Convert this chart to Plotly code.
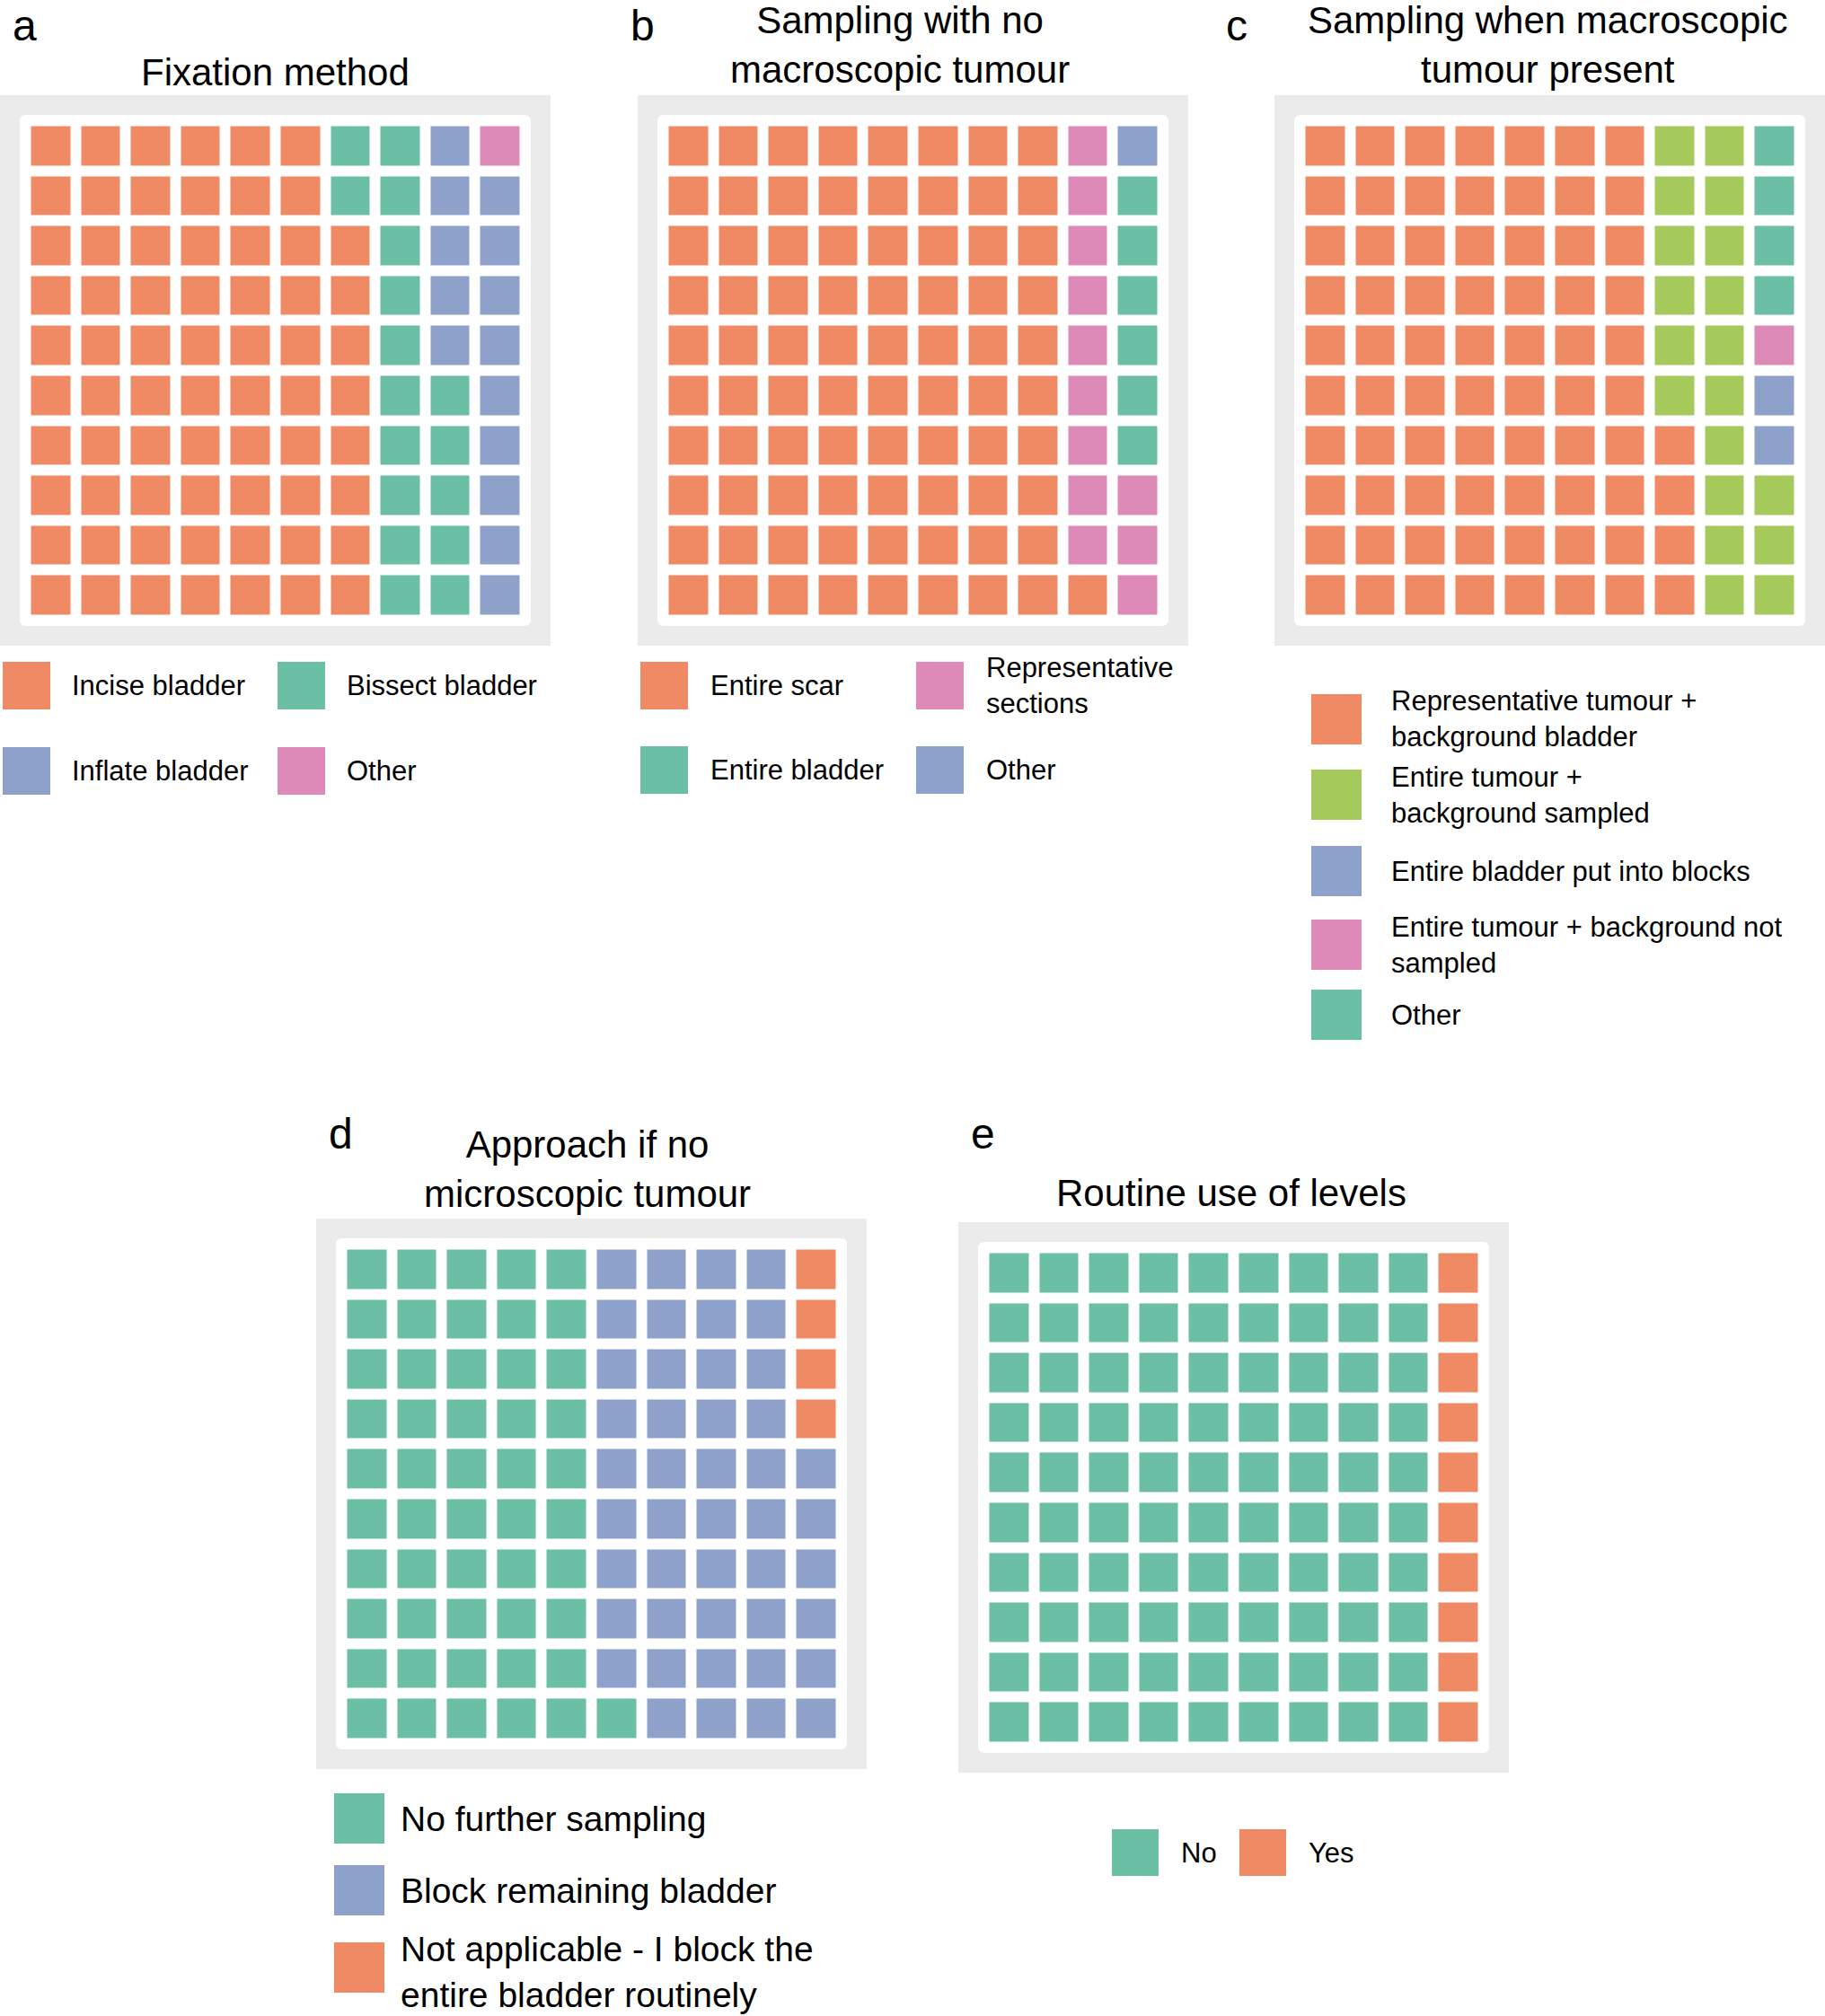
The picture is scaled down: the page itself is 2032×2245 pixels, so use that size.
import plotly.graph_objects as go

W, H = 2032, 2245
FONT = "Liberation Sans, Arial, sans-serif"

# ---- data (number of respondents out of 100 squares) ----
fix_labels = ["Incise bladder", "Bissect bladder", "Inflate bladder", "Other"]
fix_counts = [68, 17, 14, 1]
fix_colors = ["#f08a65", "#6bbfa5", "#8ea1cb", "#de8ab8"]

notum_labels = ["Entire scar", "Representative<br>sections", "Entire bladder", "Other"]
notum_counts = [81, 12, 6, 1]
notum_colors = ["#f08a65", "#de8ab8", "#6bbfa5", "#8ea1cb"]

tum_labels = ["Representative tumour +<br>background bladder",
              "Entire tumour +<br>background sampled",
              "Entire bladder put into blocks",
              "Entire tumour + background not<br>sampled",
              "Other"]
tum_counts = [74, 19, 2, 1, 4]
tum_colors = ["#f08a65", "#a5c95a", "#8ea1cb", "#de8ab8", "#6bbfa5"]

micro_labels = ["No further sampling", "Block remaining bladder",
                "Not applicable - I block the<br>entire bladder routinely"]
micro_counts = [51, 45, 4]
micro_colors = ["#6bbfa5", "#8ea1cb", "#f08a65"]

levels_labels = ["No", "Yes"]
levels_counts = [90, 10]
levels_colors = ["#6bbfa5", "#f08a65"]


def X(px):
    return px / W


def Y(py):
    return 1 - py / H


def waffle_z(counts):
    # fill column by column, starting bottom-left
    cells = []
    for i, c in enumerate(counts):
        cells += [i] * c
    z = [[None] * 10 for _ in range(10)]
    for k, v in enumerate(cells):
        col, row = divmod(k, 10)
        z[row][col] = v
    return z


def discrete_scale(colors):
    n = len(colors)
    scale = []
    for i, c in enumerate(colors):
        scale += [[i / n, c], [(i + 1) / n, c]]
    return scale


fig = go.Figure()
shapes = []
annotations = []

FRAME = 613
INSET = 22
PAD = 6.5 / 55.6

panels = [
    # counts, colors, frame left, frame top, title, title x, title y, letter, letter x, letter y
    (fix_counts, fix_colors, 0, 106, "Fixation method", 306, 80, "a", 12, 28),
    (notum_counts, notum_colors, 710, 106, "Sampling with no<br>macroscopic tumour", 1002, 50, "b", 700, 28),
    (tum_counts, tum_colors, 1419, 106, "Sampling when macroscopic<br>tumour present", 1723, 50, "c", 1363, 28),
    (micro_counts, micro_colors, 352, 1357, "Approach if no<br>microscopic tumour", 654, 1302, "d", 364, 1262),
    (levels_counts, levels_colors, 1067, 1361, "Routine use of levels", 1371, 1328, "e", 1079, 1262),
]

for i, (counts, colors, fx, fy, title, tx, ty, letter, lx, ly) in enumerate(panels):
    n = i + 1
    xa = "x" if n == 1 else "x%d" % n
    ya = "y" if n == 1 else "y%d" % n
    fig.add_trace(go.Heatmap(
        z=waffle_z(counts), xgap=12, ygap=12,
        colorscale=discrete_scale(colors), zmin=-0.5, zmax=len(colors) - 0.5,
        showscale=False, hoverinfo="skip", xaxis=xa, yaxis=ya,
    ))
    wx0, wy0 = fx + INSET, fy + INSET
    wx1, wy1 = wx0 + FRAME - 2 * INSET, wy0 + FRAME - 2 * INSET
    axis_style = dict(visible=False, showgrid=False, zeroline=False, fixedrange=True)
    fig.update_layout(**{
        ("xaxis" if n == 1 else "xaxis%d" % n): dict(
            domain=[X(wx0), X(wx1)], range=[-0.5 - PAD, 9.5 + PAD], anchor=ya, **axis_style),
        ("yaxis" if n == 1 else "yaxis%d" % n): dict(
            domain=[Y(wy1), Y(wy0)], range=[-0.5 - PAD, 9.5 + PAD], anchor=xa, **axis_style),
    })
    # grey frame and rounded white panel
    shapes.append(dict(type="rect", xref="paper", yref="paper", layer="below",
                       x0=X(fx), x1=X(fx + FRAME), y0=Y(fy + FRAME), y1=Y(fy),
                       fillcolor="#ebebeb", line_width=0))
    r = 7
    rx, ry = r / W, r / H
    a0, a1, b0, b1 = X(wx0), X(wx1), Y(wy1), Y(wy0)
    path = (f"M {a0 + rx},{b1} L {a1 - rx},{b1} Q {a1},{b1} {a1},{b1 - ry} "
            f"L {a1},{b0 + ry} Q {a1},{b0} {a1 - rx},{b0} L {a0 + rx},{b0} "
            f"Q {a0},{b0} {a0},{b0 + ry} L {a0},{b1 - ry} Q {a0},{b1} {a0 + rx},{b1} Z")
    shapes.append(dict(type="path", path=path, xref="paper", yref="paper", layer="below",
                       fillcolor="white", line_width=0))
    annotations.append(dict(text=title, x=X(tx), y=Y(ty), xref="paper", yref="paper",
                            xanchor="center", yanchor="middle", showarrow=False,
                            font=dict(size=42, color="black", family=FONT)))
    annotations.append(dict(text=letter, x=X(lx), y=Y(ly), xref="paper",
                            yref="paper", xanchor="left", yanchor="middle", showarrow=False,
                            font=dict(size=48, color="black", family=FONT)))


def add_legend(labels, colors, slots, size, text_dx, fsize, text_dy=None):
    text_dy = text_dy or [0] * len(labels)
    for lab, col, (sx, sy), dy in zip(labels, colors, slots, text_dy):
        shapes.append(dict(type="rect", xref="paper", yref="paper",
                           x0=X(sx), x1=X(sx + size), y0=Y(sy + size), y1=Y(sy),
                           fillcolor=col, line_width=0))
        annotations.append(dict(text=lab, x=X(sx + text_dx), y=Y(sy + size / 2 + dy),
                                xref="paper", yref="paper", xanchor="left", yanchor="middle",
                                align="left", showarrow=False,
                                font=dict(size=fsize, color="black", family=FONT)))


add_legend(fix_labels, fix_colors, [(3, 737), (309, 737), (3, 832), (309, 832)], 53, 75, 31)
add_legend(notum_labels, notum_colors, [(713, 737), (1020, 737), (713, 831), (1020, 831)], 53, 76, 31)
add_legend(tum_labels, tum_colors, [(1460, 773), (1460, 857), (1460, 942), (1460, 1024), (1460, 1102)],
           56, 87, 31)
add_legend(micro_labels, micro_colors, [(372, 1997), (372, 2077), (372, 2163)], 56, 72, 39,
           [0, 0, 5])
add_legend(levels_labels, levels_colors, [(1238, 2037), (1380, 2037)], 52, 75, 31)

fig.update_layout(
    width=W, height=H, autosize=False,
    margin=dict(l=0, r=0, t=0, b=0),
    paper_bgcolor="white", plot_bgcolor="rgba(0,0,0,0)",
    showlegend=False, shapes=shapes, annotations=annotations,
    font=dict(family=FONT),
)

fig.write_html("out.html", config={"displayModeBar": False},
               post_script="document.body.style.margin = '0';")
